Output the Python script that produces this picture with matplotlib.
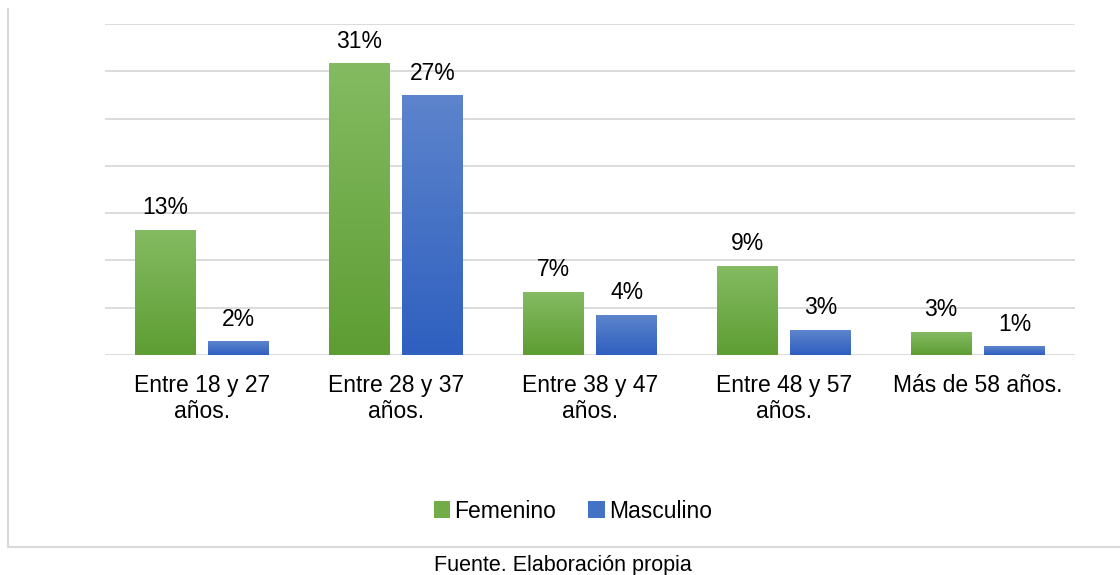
import numpy as np
import matplotlib.pyplot as plt
from matplotlib.colors import to_rgb

# fuente tipo Arial
plt.rcParams['font.family'] = ['Liberation Sans', 'DejaVu Sans']

# datos del grafico (porcentajes)
categorias = ['Entre 18 y 27\naños.', 'Entre 28 y 37\naños.', 'Entre 38 y 47\naños.',
              'Entre 48 y 57\naños.', 'Más de 58 años.']
femenino = [13.2, 30.8, 6.6, 9.4, 2.4]
masculino = [1.4, 27.4, 4.2, 2.6, 0.85]
etiquetas_fem = ['13%', '31%', '7%', '9%', '3%']
etiquetas_mas = ['2%', '27%', '4%', '3%', '1%']

fig = plt.figure(figsize=(11.2, 5.75), dpi=100)
ax = fig.add_axes([0.09375, 0.3826, 0.866, 0.5757])

x = np.arange(len(categorias))
ancho = 0.314
barras_f = ax.bar(x - 0.19, femenino, ancho, color='#70ad47', label='Femenino', zorder=2)
barras_m = ax.bar(x + 0.19, masculino, ancho, color='#4472c4', label='Masculino', zorder=2)


# relleno degradado sobre cada barra (claro arriba, oscuro abajo)
def degradado(barras, arriba, abajo):
    c1, c2 = np.array(to_rgb(arriba)), np.array(to_rgb(abajo))
    t = np.linspace(0, 1, 100)[:, None, None]
    img = c1 * (1 - t) + c2 * t
    for r in barras:
        x0, w, h = r.get_x(), r.get_width(), r.get_height()
        ax.imshow(img, extent=[x0, x0 + w, 0, h], aspect='auto', zorder=3, interpolation='bilinear')


degradado(barras_f, '#84bb62', '#5e9d33')
degradado(barras_m, '#5d84cc', '#2f60c0')

# etiquetas de valor
for barras, etiquetas in [(barras_f, etiquetas_fem), (barras_m, etiquetas_mas)]:
    for r, txt in zip(barras, etiquetas):
        ax.annotate(txt, (r.get_x() + r.get_width() / 2, r.get_height()), xytext=(0, 8),
                    textcoords='offset points', ha='center', va='bottom', fontsize=16.5)

# ejes y cuadricula
ax.set_xlim(-0.5, len(categorias) - 0.5)
ax.set_ylim(0, 35)
ax.set_yticks(np.arange(0, 36, 5))
ax.set_yticklabels([])
ax.grid(axis='y', color='#d9d9d9', linewidth=1.3, zorder=0)
ax.set_axisbelow(True)
for s in ax.spines.values():
    s.set_visible(False)
ax.set_xticks(x)
ax.set_xticklabels(categorias, fontsize=16.5, linespacing=1.2)
ax.tick_params(length=0, pad=13.5)

# leyenda
fig.legend(handles=[barras_f, barras_m], loc='center', bbox_to_anchor=(573 / 1120, 1 - 511 / 575),
           ncol=2, frameon=False, fontsize=16.5, handlelength=0.7, handleheight=0.7,
           handletextpad=0.2, columnspacing=1.4)

# marco del grafico
fig.add_artist(plt.Line2D([8 / 1120, 8 / 1120], [1 - 9 / 575, 1 - 547 / 575],
                          transform=fig.transFigure, color='#d9d9d9', linewidth=1.5))
fig.add_artist(plt.Line2D([8 / 1120, 1], [1 - 547 / 575, 1 - 547 / 575],
                          transform=fig.transFigure, color='#d9d9d9', linewidth=1.5))

fig.text(563 / 1120, 1 - 565 / 575, 'Fuente. Elaboración propia', ha='center', va='center', fontsize=15.5)

fig.savefig('out.png', dpi=100)
